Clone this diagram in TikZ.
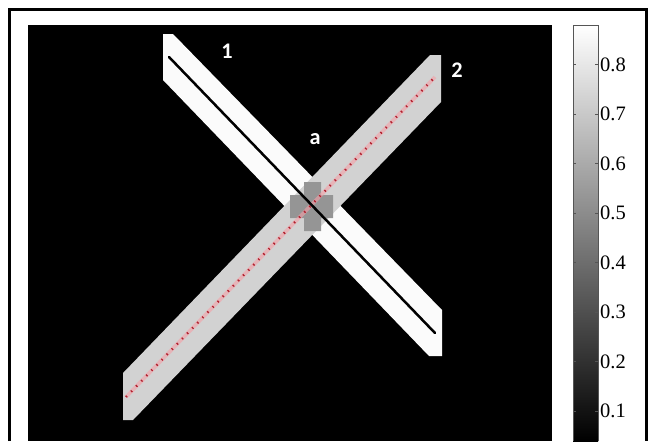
\documentclass[tikz,border=0pt]{standalone}
\usepackage{fontspec}
\setmainfont{Liberation Serif}
\newfontfamily\bandfont{Carlito}
\usetikzlibrary{positioning,calc}
\definecolor{BandOne}{HTML}{FBFBFB}
\definecolor{BandTwo}{HTML}{D2D2D2}
\definecolor{Overlap}{HTML}{959595}
\definecolor{TraceRed}{HTML}{B0202E}
\definecolor{TracePink}{HTML}{F4A0A8}
\definecolor{BarEdge}{HTML}{555555}

\begin{document}
\begin{tikzpicture}[
	x=0.03cm,y=-0.03cm,
	bandlabel/.style={text=white,font=\bandfont\bfseries\fontsize{19}{19}\selectfont,inner sep=0pt},
	ticklabel/.style={anchor=west,font=\fontsize{17.5}{17.5}\selectfont,inner sep=0pt}
	]
			
			\useasboundingbox (0,0) rectangle (654,441);
			\fill[white] (0,0) rectangle (654,441);
			
			% ---------------------------------------------------------
			% FRAME AND IMAGE AREA
			% ---------------------------------------------------------
			
			\draw[line width=0.09cm]
			(9,441) -- (9,9) -- (646,9) -- (646,441);
			
			\fill[black] (28,25) rectangle (552,441);
			
			% ---------------------------------------------------------
			% BANDS
			% ---------------------------------------------------------
			
			\fill[BandOne]
			(163,34) -- (173,34) -- (442,310) -- (442,356) -- (429,356) -- (163,80) -- cycle;
			
			\fill[BandTwo]
			(430,55) -- (441,55) -- (441,102) -- (133,420) -- (123,420) -- (123,373) -- cycle;
			
			\fill[Overlap]
			(304,182) -- (321,182) -- (321,195) -- (333,195) -- (333,218) -- (321,218)
			-- (321,231) -- (304,231) -- (304,218) -- (290,218) -- (290,195) -- (304,195) -- cycle;
			
			% ---------------------------------------------------------
			% TRACKS
			% ---------------------------------------------------------
			
			\coordinate (trackTwoStart) at (126,397);
			\coordinate (trackTwoEnd) at (435,77);
			\coordinate (trackOneStart) at (169,57);
			\coordinate (trackOneEnd) at (435,333);
			
			\draw[TracePink,line width=0.11cm,opacity=0.6]
			(trackTwoStart) -- (trackTwoEnd);
			
			\draw[TraceRed,line width=0.07cm,dash pattern=on 0.04cm off 0.18cm]
			(trackTwoStart) -- (trackTwoEnd);
			
			\draw[black,line width=0.075cm,line cap=round]
			(trackOneStart) -- (trackOneEnd);
			
			% ---------------------------------------------------------
			% LABELS
			% ---------------------------------------------------------
			
			\node[bandlabel] (labelOne) at (227,51) {1};
			\node[bandlabel] (labelTwo) at (457,70) {2};
			\node[bandlabel] (labelA) at (315,139) {a};
			
			% ---------------------------------------------------------
			% COLOR BAR
			% ---------------------------------------------------------
			
			\shade[top color=white,bottom color=black]
			(573,25) rectangle (598,441);
			\draw[BarEdge,line width=0.03cm]
			(573,441) -- (573,25) -- (598,25) -- (598,441);
			
			\foreach \val/\lab in {0.8/0.8,0.7/0.7,0.6/0.6,0.5/0.5,0.4/0.4,0.3/0.3,0.2/0.2,0.1/0.1}{
				\draw[BarEdge,line width=0.03cm]
				(573,{64.5+(0.8-\val)*495}) -- ++(3,0);
				\draw[BarEdge,line width=0.03cm]
				(598,{64.5+(0.8-\val)*495}) -- ++(-3,0);
				\node[ticklabel] (tick\lab) at (600,{64.5+(0.8-\val)*495}) {\lab};
			}
			
		\end{tikzpicture}
\end{document}
